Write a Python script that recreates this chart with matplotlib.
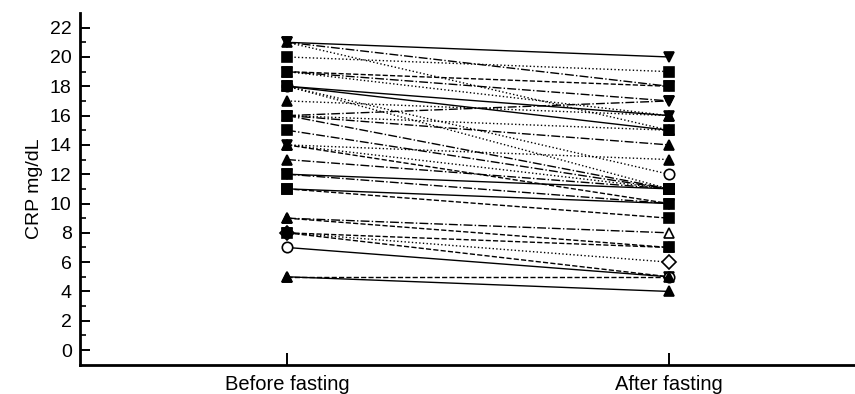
import matplotlib.pyplot as plt

plt.rcParams['font.family'] = ['Liberation Sans', 'DejaVu Sans']

# data: CRP (mg/dL) per subject, before and after fasting
groups = ['Before fasting', 'After fasting']
before = [18, 21, 21, 21, 20, 19, 19, 19, 18, 18, 18, 17, 16, 16, 16, 16, 15,
          14, 14, 14, 13, 12, 12, 11, 11, 9, 9, 8, 8, 8, 7, 5, 5]
after = [12, 20, 15, 18, 19, 18, 17, 16, 15, 16, 11, 16, 17, 14, 11, 15, 11,
         13, 10, 11, 11, 11, 10, 9, 10, 8, 7, 6, 7, 5, 5, 5, 4]
styles = [':', '-', ':', '-.', ':', '--', '-.', ':', '-', '-', ':', ':', '-.',
          '-.', '-.', ':', '-.', ':', '--', ':', '-.', '-', '-.', '--', '-',
          '-.', '--', ':', '--', '--', '-', '--', '-']
markers = ['o', 'v', '^', 'v', 's', 's', 'v', '^', '^', 'v', 's', '^', 'v',
           '^', 'v', 's', 's', '^', 'v', '^', '^', 's', 'v', 's', 's',
           '^', '^', 'D', 's', 'v', 'o', '^', '^']
filled = [False, True, True, True, True, True, True, True, False, True, True,
          True, True, True, True, True, True, True, True, True, True, True,
          True, True, True, False, True, False, True, True, False, True, True]

fig = plt.figure(figsize=(8.55, 3.94), dpi=100)
ax = fig.add_axes([0.0936, 0.0736, 0.9064, 0.8934])

for b, a, ls, m, f in zip(before, after, styles, markers, filled):
    ax.plot([0, 1], [b, a], color='black', linestyle=ls, linewidth=1.0,
            marker=m, markersize=7.5, markeredgewidth=1.2,
            markerfacecolor='black' if f else 'white', markeredgecolor='black')

ax.set_xlim(-0.542, 1.487)
ax.set_ylim(-1.02, 23.0)
ax.set_xticks([0, 1])
ax.set_xticklabels(groups, fontsize=14.5)
ax.set_yticks(range(0, 23, 2))
ax.set_yticks(range(1, 23, 2), minor=True)
ax.tick_params(axis='y', which='major', direction='in', length=7.5, width=1.4,
               labelsize=14, pad=6)
ax.tick_params(axis='y', which='minor', direction='in', length=4, width=1.2)
ax.tick_params(axis='x', direction='in', length=8.5, width=1.4, pad=7)
ax.set_ylabel('CRP mg/dL', fontsize=14, labelpad=5)

for s in ['top', 'right']:
    ax.spines[s].set_visible(False)
for s in ['left', 'bottom']:
    ax.spines[s].set_linewidth(2)

fig.savefig('out.png', dpi=100)
